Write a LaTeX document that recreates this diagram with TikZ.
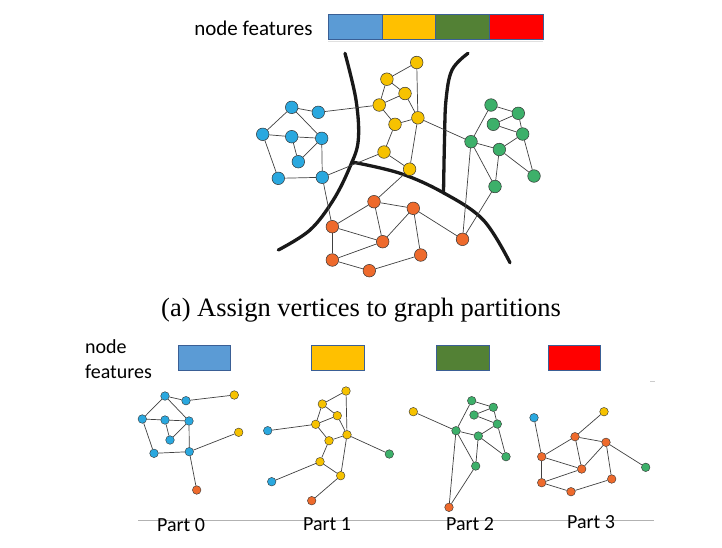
\documentclass[tikz,border=0pt]{standalone}
\usepackage{fontspec}
\newfontfamily\calfont{Carlito}
\newfontfamily\timesfont{Liberation Serif}
\definecolor{nblue}{HTML}{2AA8DF}
\definecolor{nyellow}{HTML}{F6C200}
\definecolor{ngreen}{HTML}{3DB06A}
\definecolor{norange}{HTML}{EE6A2C}
\definecolor{lblue}{HTML}{5B9BD5}
\definecolor{lyellow}{HTML}{FFC000}
\definecolor{lgreen}{HTML}{538135}
\definecolor{lred}{HTML}{FF0000}
\definecolor{lborder}{HTML}{3A5F95}
\begin{document}
\begin{tikzpicture}[x=1pt,y=-1pt,
  conn/.style={draw=black!75, line width=0.7pt},
  tnode/.style={circle, draw=black!80, line width=0.5pt, minimum size=12.6pt, inner sep=0pt},
  bnode/.style={circle, draw=black!80, line width=0.4pt, minimum size=8.6pt, inner sep=0pt},
  nb/.style={fill=nblue}, ny/.style={fill=nyellow}, ng/.style={fill=ngreen}, nor/.style={fill=norange},
  partline/.style={line width=3.3pt, draw=black!90, line cap=round},
  legbox/.style={draw=lborder, line width=0.9pt, inner sep=0pt},
  calibri/.style={font=\calfont\fontsize{#1}{#1*1.2}\selectfont},
]
\useasboundingbox (0,0) rectangle (722,547);

% ---------- top legend ----------
\node[font=\calfont\fontsize{21}{25}\selectfont] (tleg) at (253.5,28) {node features};
\node[legbox, fill=lblue, minimum width=53.75pt, minimum height=25pt] (tl1) at (355.2,26.5) {};
\node[legbox, fill=lyellow, minimum width=53.75pt, minimum height=25pt] (tl2) at (408.9,26.5) {};
\node[legbox, fill=lgreen, minimum width=53.75pt, minimum height=25pt] (tl3) at (462.7,26.5) {};
\node[legbox, fill=lred, minimum width=53.75pt, minimum height=25pt] (tl4) at (516.4,26.5) {};
\draw[black!12, line width=0.8pt] (328,41) -- (543,41);

% ---------- partition curves ----------
\draw[partline] plot[smooth, tension=0.6] coordinates {(345,53.3) (356,100) (358.3,140) (350,166.7) (333.3,200) (310,230) (278.3,250)};
\draw[partline] plot[smooth, tension=0.6] coordinates {(352,162) (400,173.3) (443.3,192.7) (483.3,220) (510,262.7)};
\draw[partline] plot[smooth, tension=0.6] coordinates {(468,53.3) (452,70) (446,100) (444.5,140) (443.5,193)};

% ---------- top graph ----------
\node[tnode,nb] (tb1) at (291.7,107.3) {};
\node[tnode,nb] (tb2) at (318.3,112.3) {};
\node[tnode,nb] (tb3) at (262.7,134.3) {};
\node[tnode,nb] (tb4) at (291.7,136.7) {};
\node[tnode,nb] (tb5) at (321.7,138.3) {};
\node[tnode,nb] (tb6) at (298.3,161.7) {};
\node[tnode,nb] (tb7) at (278.3,178.3) {};
\node[tnode,nb] (tb8) at (322.3,177.3) {};

\node[tnode,ny] (ty1) at (416.7,62.5) {};
\node[tnode,ny] (ty2) at (386.9,79.2) {};
\node[tnode,ny] (ty3) at (405,93.5) {};
\node[tnode,ny] (ty4) at (379.2,105) {};
\node[tnode,ny] (ty5) at (417.9,117.8) {};
\node[tnode,ny] (ty6) at (395,124.3) {};
\node[tnode,ny] (ty7) at (384,152) {};
\node[tnode,ny] (ty8) at (409.6,169.2) {};

\node[tnode,ng] (tg1) at (491,105) {};
\node[tnode,ng] (tg2) at (518.3,113.3) {};
\node[tnode,ng] (tg3) at (493.3,124.3) {};
\node[tnode,ng] (tg4) at (522.7,134) {};
\node[tnode,ng] (tg5) at (471,141.7) {};
\node[tnode,ng] (tg6) at (499.3,149.5) {};
\node[tnode,ng] (tg7) at (534,176) {};
\node[tnode,ng] (tg8) at (495,186.5) {};

\node[tnode,nor] (to1) at (374,201.7) {};
\node[tnode,nor] (to2) at (413.3,208.3) {};
\node[tnode,nor] (to3) at (332.3,226.7) {};
\node[tnode,nor] (to4) at (382.7,241.7) {};
\node[tnode,nor] (to5) at (462.5,239.3) {};
\node[tnode,nor] (to6) at (332.3,260) {};
\node[tnode,nor] (to7) at (420.7,255) {};
\node[tnode,nor] (to8) at (369.3,270.7) {};

\foreach \a/\b in {tb1/tb2,tb1/tb3,tb1/tb5,tb3/tb4,tb4/tb5,tb4/tb6,tb6/tb5,tb3/tb7,tb7/tb8,tb5/tb8,
  tb2/ty4,tb8/ty7,tb8/to3,
  ty1/ty2,ty1/ty5,ty2/ty3,ty2/ty4,ty3/ty4,ty3/ty5,ty4/ty6,ty6/ty5,ty6/ty7,ty5/ty8,ty7/ty8,
  ty5/tg5,ty8/to1,
  tg1/tg2,tg1/tg5,tg3/tg2,tg3/tg4,tg2/tg4,tg5/tg6,tg4/tg6,tg6/tg7,tg4/tg7,tg5/tg8,tg6/tg8,tg5/to5,tg8/to5,
  to1/to2,to1/to3,to1/to4,to2/to4,to2/to7,to2/to5,to3/to4,to3/to6,to4/to6,to6/to8,to8/to7}
  \draw[conn] (\a) -- (\b);

% ---------- caption ----------
\node[font=\timesfont\fontsize{26.5}{30}\selectfont] (cap) at (361,310.5) {(a) Assign vertices to graph partitions};

% ---------- bottom legend ----------
\node[font=\calfont\fontsize{20}{25}\selectfont, align=left, anchor=west, inner sep=0pt] (bleg) at (85,359) {node\\features};
\node[legbox, fill=lblue, minimum width=52.5pt, minimum height=24.5pt] (bl1) at (204.5,357.8) {};
\node[legbox, fill=lyellow, minimum width=52.5pt, minimum height=24.5pt] (bl2) at (337.9,357.8) {};
\node[legbox, fill=lgreen, minimum width=52.5pt, minimum height=24.5pt] (bl3) at (463,357.8) {};
\node[legbox, fill=lred, minimum width=52.5pt, minimum height=24.5pt] (bl4) at (574.2,357.8) {};
\draw[black!20, line width=0.7pt] (650,381.5) -- (655,381.5);

% ---------- Part 0 ----------
\node[bnode,nb] (p0b1) at (165,396) {};
\node[bnode,nb] (p0b2) at (186,400.7) {};
\node[bnode,nb] (p0b3) at (142.3,419) {};
\node[bnode,nb] (p0b4) at (165,420) {};
\node[bnode,nb] (p0b5) at (189,421) {};
\node[bnode,nb] (p0b6) at (170,440) {};
\node[bnode,nb] (p0b7) at (154,453.3) {};
\node[bnode,nb] (p0b8) at (189.3,451.7) {};
\node[bnode,ny] (p0y1) at (234.3,395) {};
\node[bnode,ny] (p0y2) at (238.7,432.3) {};
\node[bnode,nor] (p0o) at (196.7,490) {};
\foreach \a/\b in {p0b1/p0b2,p0b1/p0b3,p0b1/p0b5,p0b3/p0b4,p0b4/p0b5,p0b4/p0b6,p0b6/p0b5,p0b3/p0b7,p0b7/p0b8,p0b5/p0b8,p0b2/p0y1,p0b8/p0y2,p0b8/p0o}
  \draw[conn] (\a) -- (\b);

% ---------- Part 1 ----------
\node[bnode,ny] (p1y1) at (346,391) {};
\node[bnode,ny] (p1y2) at (322.3,404) {};
\node[bnode,ny] (p1y3) at (337.3,415.7) {};
\node[bnode,ny] (p1y4) at (315.7,424.3) {};
\node[bnode,ny] (p1y5) at (347,434.7) {};
\node[bnode,ny] (p1y6) at (329,440.7) {};
\node[bnode,ny] (p1y7) at (320,461.7) {};
\node[bnode,ny] (p1y8) at (340.7,475.7) {};
\node[bnode,nb] (p1b1) at (267.7,430.7) {};
\node[bnode,nb] (p1b2) at (271.7,481.7) {};
\node[bnode,nor] (p1o) at (311.7,500.7) {};
\node[bnode,ng] (p1g) at (389.3,454) {};
\foreach \a/\b in {p1y1/p1y2,p1y1/p1y5,p1y2/p1y3,p1y2/p1y4,p1y3/p1y4,p1y3/p1y5,p1y4/p1y6,p1y6/p1y5,p1y6/p1y7,p1y5/p1y8,p1y7/p1y8,p1y4/p1b1,p1y7/p1b2,p1y8/p1o,p1y5/p1g}
  \draw[conn] (\a) -- (\b);

% ---------- Part 2 ----------
\node[bnode,ny] (p2y) at (413.3,411.7) {};
\node[bnode,ng] (p2g1) at (471.7,400.7) {};
\node[bnode,ng] (p2g2) at (493.3,407.3) {};
\node[bnode,ng] (p2g3) at (474,415) {};
\node[bnode,ng] (p2g4) at (497.3,424) {};
\node[bnode,ng] (p2g5) at (456,430.7) {};
\node[bnode,ng] (p2g6) at (478.3,436) {};
\node[bnode,ng] (p2g7) at (506,456.7) {};
\node[bnode,ng] (p2g8) at (475.7,466) {};
\node[bnode,nor] (p2o) at (449,507.3) {};
\foreach \a/\b in {p2y/p2g5,p2g1/p2g5,p2g1/p2g2,p2g3/p2g2,p2g3/p2g4,p2g2/p2g4,p2g5/p2g6,p2g4/p2g6,p2g6/p2g7,p2g4/p2g7,p2g5/p2g8,p2g6/p2g8,p2g5/p2o,p2g8/p2o}
  \draw[conn] (\a) -- (\b);

% ---------- Part 3 ----------
\node[bnode,nb] (p3b) at (534,417.7) {};
\node[bnode,ny] (p3y) at (604,411.7) {};
\node[bnode,nor] (p3o1) at (575,436.7) {};
\node[bnode,nor] (p3o2) at (606,442.3) {};
\node[bnode,nor] (p3o3) at (541.7,456.7) {};
\node[bnode,nor] (p3o4) at (581.7,469) {};
\node[bnode,ng] (p3g) at (645.7,467.3) {};
\node[bnode,nor] (p3o6) at (541.7,482.7) {};
\node[bnode,nor] (p3o7) at (611.7,479) {};
\node[bnode,nor] (p3o8) at (571,491.7) {};
\foreach \a/\b in {p3b/p3o3,p3y/p3o1,p3o1/p3o2,p3o1/p3o3,p3o1/p3o4,p3o2/p3o4,p3o2/p3o7,p3o2/p3g,p3o3/p3o4,p3o3/p3o6,p3o4/p3o6,p3o6/p3o8,p3o8/p3o7}
  \draw[conn] (\a) -- (\b);

% ---------- baseline and part labels ----------
\draw[black!30, line width=0.8pt] (138,520) -- (654,520);
\node[font=\calfont\fontsize{20}{24}\selectfont] (l0) at (181,525) {Part 0};
\node[font=\calfont\fontsize{20}{24}\selectfont] (l1) at (327,524) {Part 1};
\node[font=\calfont\fontsize{20}{24}\selectfont] (l2) at (470,523.7) {Part 2};
\node[font=\calfont\fontsize{20}{24}\selectfont] (l3) at (591,522) {Part 3};
\end{tikzpicture}
\end{document}
